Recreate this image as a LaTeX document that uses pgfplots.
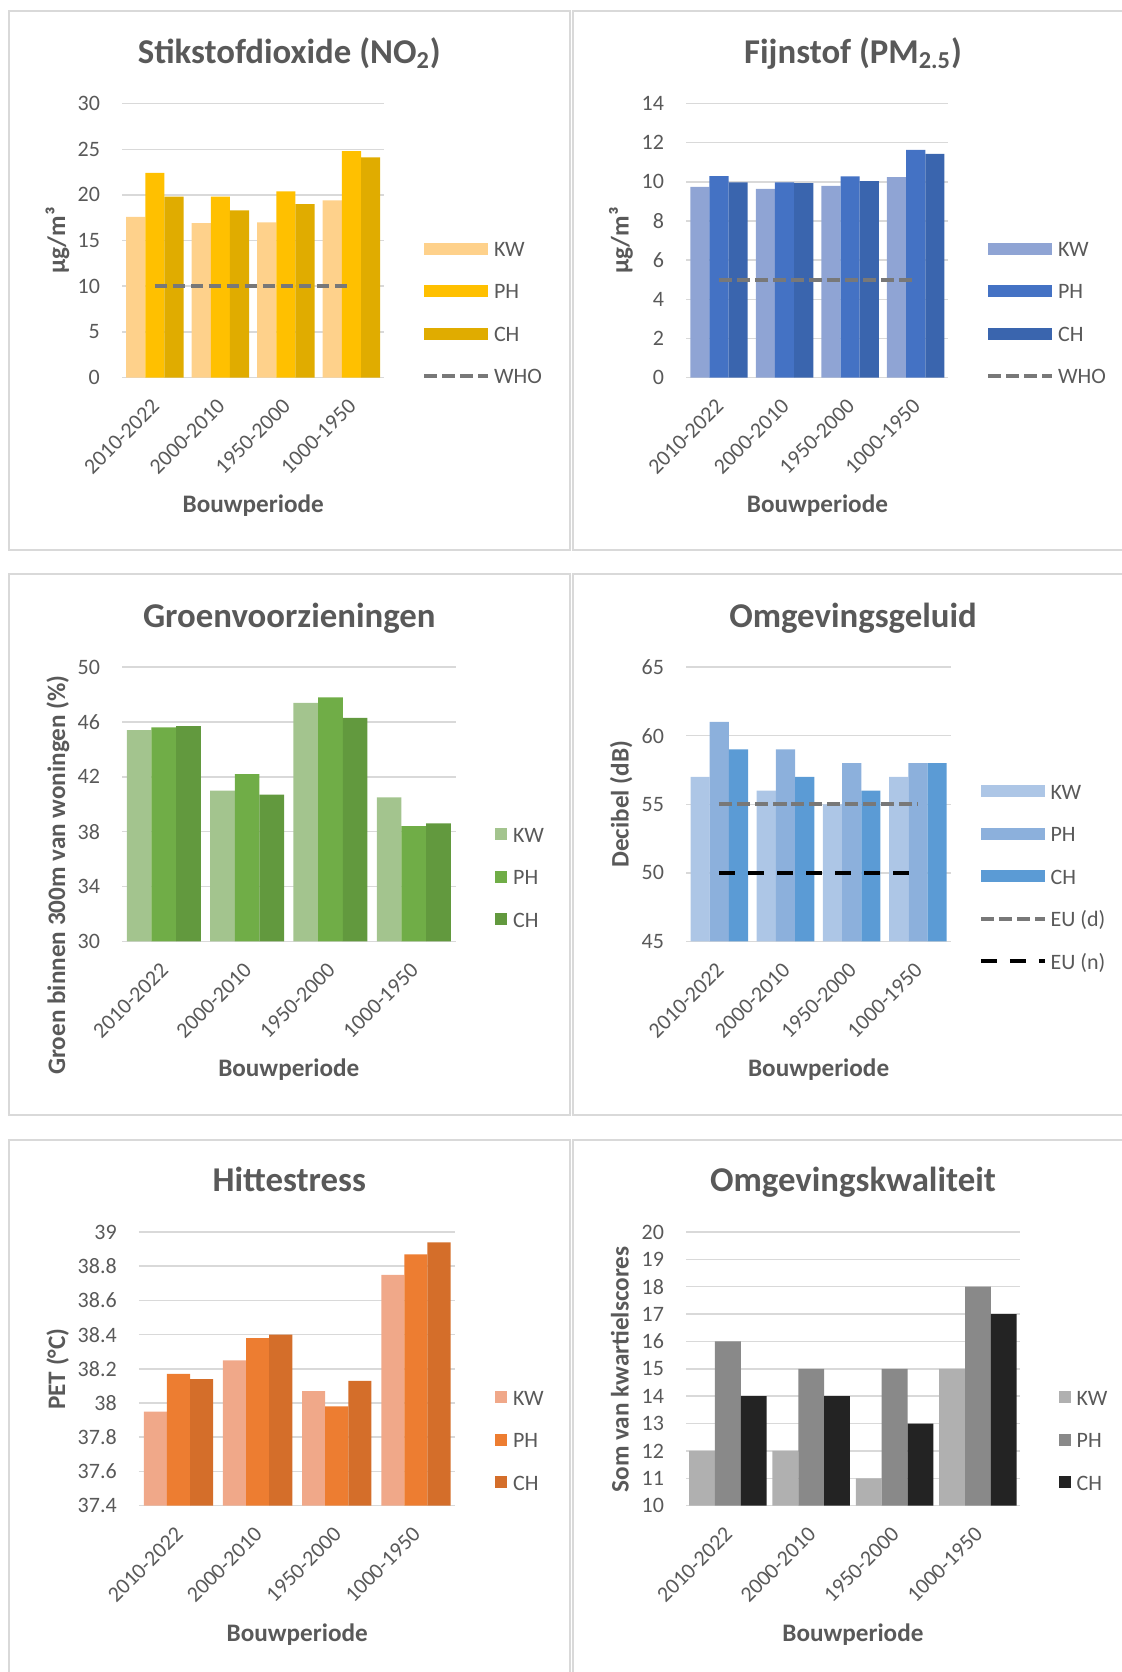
\documentclass[border=0pt]{standalone}
\usepackage{pgfplots}
\pgfplotsset{compat=1.18}
\usepackage{fontspec}
\setmainfont{Carlito}
\definecolor{gridgray}{HTML}{D9D9D9}
\definecolor{txtgray}{HTML}{595959}
\definecolor{linegray}{HTML}{787878}
\definecolor{y1}{HTML}{FED18B}
\definecolor{y2}{HTML}{FFC000}
\definecolor{y3}{HTML}{E0AC00}
\definecolor{b1}{HTML}{8FA4D4}
\definecolor{b2}{HTML}{4472C4}
\definecolor{b3}{HTML}{3A65AE}
\definecolor{g1}{HTML}{A3C48E}
\definecolor{g2}{HTML}{70AD47}
\definecolor{g3}{HTML}{62993E}
\definecolor{l1}{HTML}{ADC6E6}
\definecolor{l2}{HTML}{8CB0DC}
\definecolor{l3}{HTML}{5B9BD5}
\definecolor{o1}{HTML}{F0A889}
\definecolor{o2}{HTML}{ED7D31}
\definecolor{o3}{HTML}{D46E2A}
\definecolor{k1}{HTML}{B0B0B0}
\definecolor{k2}{HTML}{898989}
\definecolor{k3}{HTML}{232323}
\newcommand{\tickfont}{\fontsize{11}{13.2}\selectfont}
\newcommand{\titlefont}{\fontsize{17.4}{20}\selectfont\bfseries}
\newcommand{\labfont}{\fontsize{12.6}{15}\selectfont\bfseries}
\pgfplotsset{
  panel/.style={
    scale only axis,
    ybar,
    xmin=-0.5, xmax=3.5,
    xtick={0,1,2,3},
    xticklabels={2010-2022,2000-2010,1950-2000,1000-1950},
    axis x line*=bottom,
    axis y line*=left,
    x axis line style={draw=gridgray, line width=0.75pt},
    y axis line style={draw=none},
    major tick length=0pt,
    ymajorgrids,
    grid style={draw=gridgray, line width=0.75pt},
    tick label style={font=\tickfont, text=txtgray},
    scaled y ticks=false,
    /pgf/number format/assume math mode=true,
    xticklabel style={inner sep=0pt, xshift=-2.2pt, yshift=-9.8pt, rotate=45, anchor=north east},
    yticklabel style={inner sep=0pt, anchor=east, xshift=-10.9pt},
    legend cell align=left,
    legend style={draw=none, fill=none, inner sep=0pt, outer sep=0pt, anchor=north west, font=\tickfont, text=txtgray, row sep=10.5pt, column sep=1.8pt, nodes={inner sep=0pt}},
    legend image code/.code={\fill[##1] (0pt,-3pt) rectangle (32pt,3pt);},
  },
  sq/.style={legend image code/.code={\fill[##1] (0pt,-3pt) rectangle (6pt,3pt);}, legend style={column sep=3pt}},
  dashleg/.style={legend image code/.code={\draw[##1] (0pt,0pt) -- (32pt,0pt);}},
}
\begin{document}
\begin{tikzpicture}
\path[use as bounding box] (0pt,0pt) rectangle (561pt,-836pt);
% panel frames
\draw[gridgray, line width=1pt] (4.35pt,-5.35pt) rectangle (285pt,-275pt);
\draw[gridgray, line width=1pt] (561pt,-5.35pt) -- (286.25pt,-5.35pt) -- (286.25pt,-275pt) -- (561pt,-275pt);
\draw[gridgray, line width=1pt] (4.35pt,-287pt) rectangle (285pt,-557.5pt);
\draw[gridgray, line width=1pt] (561pt,-287pt) -- (286.25pt,-287pt) -- (286.25pt,-557.5pt) -- (561pt,-557.5pt);
\draw[gridgray, line width=1pt] (4.35pt,-836pt) -- (4.35pt,-570pt) -- (285pt,-570pt) -- (285pt,-836pt);
\draw[gridgray, line width=1pt] (286.25pt,-836pt) -- (286.25pt,-570pt) -- (561pt,-570pt);

% ---------- Panel 1: NO2
\begin{axis}[panel, at={(61.05pt,-188.75pt)}, anchor=south west,
  width=131.05pt, height=136.95pt, ymin=0, ymax=30, ytick={0,5,...,30},
  bar width=0.292,
  legend style={at={(1.145,0.51)}}]
\addplot[fill=y1, draw=none, bar shift=-0.292] coordinates {(0,17.6) (1,16.9) (2,17.0) (3,19.4)};
\addplot[fill=y2, draw=none, bar shift=0] coordinates {(0,22.4) (1,19.8) (2,20.4) (3,24.8)};
\addplot[fill=y3, draw=none, bar shift=0.292] coordinates {(0,19.8) (1,18.3) (2,19.0) (3,24.1)};
\addplot[sharp plot, draw=linegray, line width=2.1pt, dash pattern=on 6.3pt off 2.7pt, dashleg] coordinates {(0,10) (1,10) (2,10) (3,10)};
\legend{\strut KW,\strut PH,\strut CH,\strut WHO}
\end{axis}

% ---------- Panel 2: PM2.5
\begin{axis}[panel, at={(343.1pt,-188.75pt)}, anchor=south west,
  width=131.15pt, height=136.95pt, ymin=0, ymax=14, ytick={0,2,...,14},
  bar width=0.292,
  legend style={at={(1.144,0.51)}}]
\addplot[fill=b1, draw=none, bar shift=-0.292] coordinates {(0,9.75) (1,9.64) (2,9.80) (3,10.24)};
\addplot[fill=b2, draw=none, bar shift=0] coordinates {(0,10.29) (1,9.98) (2,10.28) (3,11.63)};
\addplot[fill=b3, draw=none, bar shift=0.292] coordinates {(0,9.98) (1,9.93) (2,10.04) (3,11.43)};
\addplot[sharp plot, draw=linegray, line width=2.1pt, dash pattern=on 6.3pt off 2.7pt, dashleg] coordinates {(0,5) (1,5) (2,5) (3,5)};
\legend{\strut KW,\strut PH,\strut CH,\strut WHO}
\end{axis}

% ---------- Panel 3: Groen
\begin{axis}[panel, sq, at={(61.05pt,-470.7pt)}, anchor=south west,
  width=166.7pt, height=137.15pt, ymin=30, ymax=50, ytick={30,34,...,50},
  bar width=0.296,
  legend style={at={(1.119,0.4295)}}]
\addplot[fill=g1, draw=none, bar shift=-0.296] coordinates {(0,45.4) (1,41.0) (2,47.4) (3,40.5)};
\addplot[fill=g2, draw=none, bar shift=0] coordinates {(0,45.6) (1,42.2) (2,47.8) (3,38.4)};
\addplot[fill=g3, draw=none, bar shift=0.296] coordinates {(0,45.7) (1,40.7) (2,46.3) (3,38.6)};
\legend{\strut KW,\strut PH,\strut CH}
\end{axis}

% ---------- Panel 4: Geluid
\begin{axis}[panel, at={(343.1pt,-470.7pt)}, anchor=south west,
  width=132.4pt, height=137.15pt, ymin=45, ymax=65, ytick={45,50,...,65},
  bar width=0.29,
  legend style={at={(1.105,0.586)}}]
\addplot[fill=l1, draw=none, bar shift=-0.29] coordinates {(0,57) (1,56) (2,55) (3,57)};
\addplot[fill=l2, draw=none, bar shift=0] coordinates {(0,61) (1,59) (2,58) (3,58)};
\addplot[fill=l3, draw=none, bar shift=0.29] coordinates {(0,59) (1,57) (2,56) (3,58)};
\addplot[sharp plot, draw=linegray, line width=2.1pt, dash pattern=on 6.3pt off 2.7pt, dashleg] coordinates {(0,55) (1,55) (2,55) (3,55)};
\addplot[sharp plot, draw=black, line width=2.1pt, dash pattern=on 8pt off 6.5pt, dashleg] coordinates {(0,50) (1,50) (2,50) (3,50)};
\legend{\strut KW,\strut PH,\strut CH,\strut EU (d),\strut EU (n)}
\end{axis}

% ---------- Panel 5: Hittestress
\begin{axis}[panel, sq, at={(69.45pt,-752.8pt)}, anchor=south west,
  width=158.3pt, height=136.8pt, ymin=37.4, ymax=39,
  ytick={37.4,37.6,37.8,38,38.2,38.4,38.6,38.8,39},
  yticklabel style={/pgf/number format/.cd, fixed, precision=1},
  bar width=0.292,
  legend style={at={(1.125,0.435)}}]
\addplot[fill=o1, draw=none, bar shift=-0.292] coordinates {(0,37.95) (1,38.25) (2,38.07) (3,38.75)};
\addplot[fill=o2, draw=none, bar shift=0] coordinates {(0,38.17) (1,38.38) (2,37.98) (3,38.87)};
\addplot[fill=o3, draw=none, bar shift=0.292] coordinates {(0,38.14) (1,38.40) (2,38.13) (3,38.94)};
\legend{\strut KW,\strut PH,\strut CH}
\end{axis}

% ---------- Panel 6: Omgevingskwaliteit
\begin{axis}[panel, sq, at={(343.1pt,-752.8pt)}, anchor=south west,
  width=166.7pt, height=136.8pt, ymin=10, ymax=20, ytick={10,11,...,20},
  bar width=0.31,
  legend style={at={(1.119,0.435)}, column sep=2.7pt}]
\addplot[fill=k1, draw=none, bar shift=-0.31] coordinates {(0,12) (1,12) (2,11) (3,15)};
\addplot[fill=k2, draw=none, bar shift=0] coordinates {(0,16) (1,15) (2,15) (3,18)};
\addplot[fill=k3, draw=none, bar shift=0.31] coordinates {(0,14) (1,14) (2,13) (3,17)};
\legend{\strut KW,\strut PH,\strut CH}
\end{axis}

% ---------- titles
\node[font=\titlefont, text=txtgray, anchor=base] at (144.65pt,-31.8pt) {Stikstofdioxide (NO\textsubscript{2})};
\node[font=\titlefont, text=txtgray, anchor=base] at (426.5pt,-31.8pt) {Fijnstof (PM\textsubscript{2.5})};
\node[font=\titlefont, text=txtgray, anchor=base] at (144.65pt,-313.5pt) {Groenvoorzieningen};
\node[font=\titlefont, text=txtgray, anchor=base] at (426.5pt,-313.5pt) {Omgevingsgeluid};
\node[font=\titlefont, text=txtgray, anchor=base] at (144.65pt,-595.75pt) {Hittestress};
\node[font=\titlefont, text=txtgray, anchor=base] at (426.5pt,-595.75pt) {Omgevingskwaliteit};
% x labels
\node[font=\labfont, text=txtgray, anchor=base] at (126.6pt,-256.25pt) {Bouwperiode};
\node[font=\labfont, text=txtgray, anchor=base] at (408.7pt,-256.25pt) {Bouwperiode};
\node[font=\labfont, text=txtgray, anchor=base] at (144.4pt,-538pt) {Bouwperiode};
\node[font=\labfont, text=txtgray, anchor=base] at (409.3pt,-538pt) {Bouwperiode};
\node[font=\labfont, text=txtgray, anchor=base] at (148.6pt,-820.5pt) {Bouwperiode};
\node[font=\labfont, text=txtgray, anchor=base] at (426.45pt,-820.5pt) {Bouwperiode};
% y labels
\node[font=\labfont, text=txtgray, anchor=base, rotate=90] at (32.5pt,-120.3pt) {µg/m³};
\node[font=\labfont, text=txtgray, anchor=base, rotate=90] at (314.25pt,-120.3pt) {µg/m³};
\node[font=\labfont, text=txtgray, anchor=base, rotate=90] at (32.5pt,-437.5pt) {Groen binnen 300m van woningen (\%)};
\node[font=\labfont, text=txtgray, anchor=base, rotate=90] at (314.25pt,-402.1pt) {Decibel (dB)};
\node[font=\labfont, text=txtgray, anchor=base, rotate=90] at (32.5pt,-684.5pt) {PET (°C)};
\node[font=\labfont, text=txtgray, anchor=base, rotate=90] at (314.25pt,-684.7pt) {Som van kwartielscores};
\end{tikzpicture}
\end{document}
